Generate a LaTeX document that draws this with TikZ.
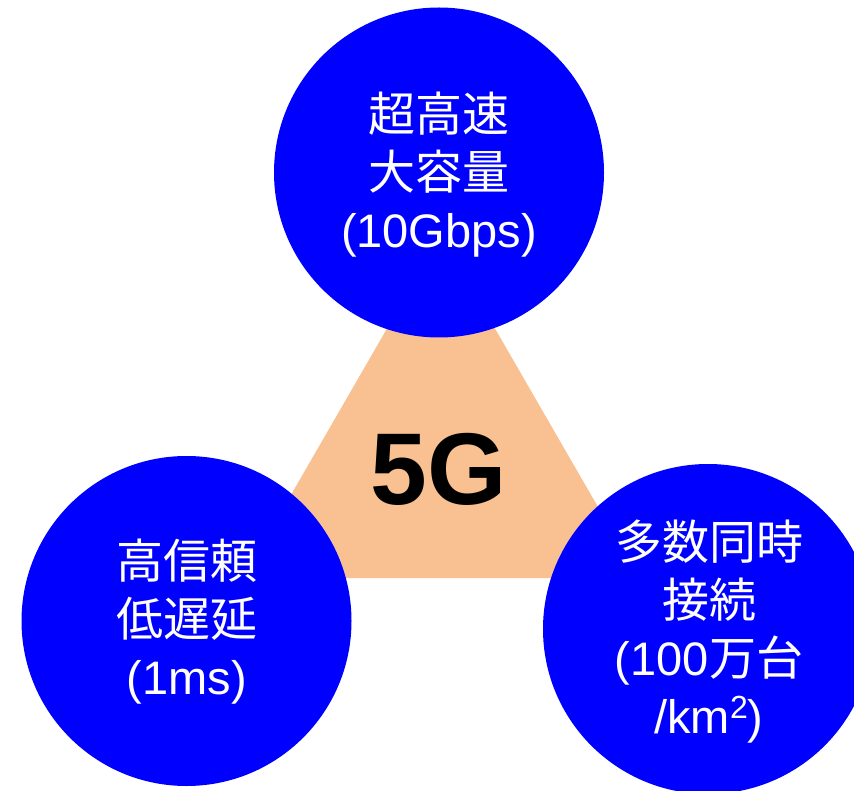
\documentclass[tikz,border=0pt]{standalone}
\usepackage{fontspec}
\setmainfont{Liberation Sans}
\newfontfamily\cjk{Noto Sans CJK JP}
\definecolor{peach}{HTML}{F9C191}
\definecolor{bblue}{HTML}{0000FF}
\tikzset{
  bigcirc/.style={circle, fill=bblue, minimum size=330pt, inner sep=0pt},
  circtext/.style={text=white, align=center, font=\fontsize{47pt}{58pt}\selectfont, inner sep=0pt},
  centretext/.style={text=black, font=\fontsize{102pt}{110pt}\selectfont\bfseries, inner sep=0pt},
  tri/.style={fill=peach}
}
\begin{document}
\begin{tikzpicture}[x=1pt,y=-1pt]
\useasboundingbox (0,0) rectangle (854,791);
\clip (0,0) rectangle (854,791);
\fill[white] (0,0) rectangle (854,791);
\coordinate (apex) at (441,235);
\coordinate (bl) at (243,578);
\coordinate (br) at (639,578);
\fill[tri] (apex) -- (bl) -- (br) -- cycle;
\node[centretext] (fiveg) at (439,469) {5G};
\node[bigcirc] (top) at (439,172.5) {};
\node[bigcirc] (left) at (186.5,621) {};
\node[bigcirc] (right) at (708,629) {};
\node[circtext] (toptext) at (439,175) {{\cjk 超高速}\\{\cjk 大容量}\\(10Gbps)};
\node[circtext] (lefttext) at (187,622) {{\cjk 高信頼}\\{\cjk 低遅延}\\(1ms)};
\node[circtext] (righttext) at (709,632) {{\cjk 多数同時}\\{\cjk 接続}\\(100{\cjk 万台}\\/km{\fontsize{32pt}{32pt}\selectfont\raisebox{15pt}{2}})};
\end{tikzpicture}
\end{document}
